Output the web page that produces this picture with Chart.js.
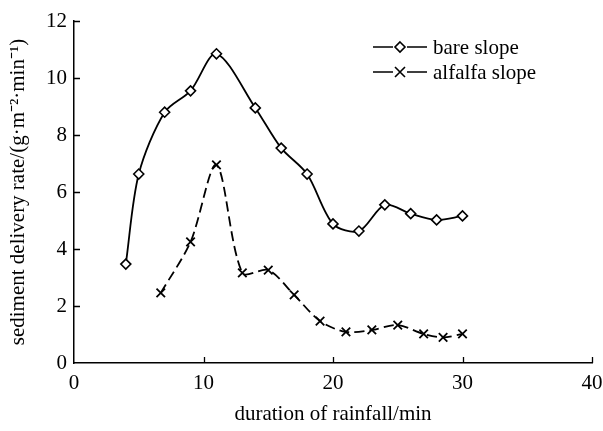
<!DOCTYPE html>
<html>
<head>
<meta charset="utf-8">
<script src="https://cdn.jsdelivr.net/npm/chart.js@4/dist/chart.umd.min.js"></script>
<style>
  html, body { margin: 0; padding: 0; background: #fff; }
  #wrap { width: 603px; height: 431px; }
</style>
</head>
<body>
<div id="wrap"><canvas id="chart" width="603" height="431"></canvas></div>
<script>
// values
const bareX = [4, 5, 7, 9, 11, 14, 16, 18, 20, 22, 24, 26, 28, 30];
const bareY = [3.47, 6.63, 8.8, 9.55, 10.85, 8.95, 7.54, 6.63, 4.88, 4.63, 5.55, 5.24, 5.02, 5.16];
const alfalfaX = [6.7, 9, 11, 13, 15, 17, 19, 21, 23, 25, 27, 28.5, 30];
const alfalfaY = [2.46, 4.25, 6.95, 3.16, 3.26, 2.39, 1.47, 1.09, 1.16, 1.33, 1.02, 0.9, 1.02];
const seriesNames = ['bare slope', 'alfalfa slope'];

const FONT = '"Liberation Serif", "Times New Roman", serif';

function toPoints(xs, ys) {
    return xs.map((x, i) => ({ x: x, y: ys[i] }));
}

// inward tick marks, like the original figure
const innerTicks = {
    id: 'innerTicks',
    afterDraw(chart) {
        const ctx = chart.ctx;
        const xs = chart.scales.x;
        const ys = chart.scales.y;
        ctx.save();
        ctx.strokeStyle = '#000';
        ctx.lineWidth = 1.3;
        ctx.beginPath();
        xs.ticks.forEach(t => {
            if (t.value === 0) return;
            const px = Math.round(xs.getPixelForValue(t.value)) + 0.5;
            ctx.moveTo(px, ys.bottom);
            ctx.lineTo(px, ys.bottom - 6);
        });
        ys.ticks.forEach(t => {
            if (t.value === 0) return;
            const py = Math.round(ys.getPixelForValue(t.value)) + 0.5;
            ctx.moveTo(xs.left, py);
            ctx.lineTo(xs.left + 6, py);
        });
        ctx.stroke();
        ctx.restore();
    }
};

// legend drawn as line + marker samples
const sampleLegend = {
    id: 'sampleLegend',
    afterDraw(chart) {
        const ctx = chart.ctx;
        const x0 = 373, x1 = 427, rows = [47, 72];
        ctx.save();
        ctx.strokeStyle = '#000';
        ctx.lineWidth = 1.6;
        ctx.font = '21px ' + FONT;
        ctx.fillStyle = '#000';
        ctx.textBaseline = 'middle';
        rows.forEach((y, i) => {
            const mid = (x0 + x1) / 2;
            ctx.beginPath();
            ctx.moveTo(x0, y);
            ctx.lineTo(mid - 7, y);
            ctx.moveTo(mid + 7, y);
            ctx.lineTo(x1, y);
            ctx.stroke();
            ctx.beginPath();
            if (i === 0) {
                ctx.moveTo(mid, y - 5);
                ctx.lineTo(mid + 5, y);
                ctx.lineTo(mid, y + 5);
                ctx.lineTo(mid - 5, y);
                ctx.closePath();
            } else {
                ctx.moveTo(mid - 5, y - 5);
                ctx.lineTo(mid + 5, y + 5);
                ctx.moveTo(mid + 5, y - 5);
                ctx.lineTo(mid - 5, y + 5);
            }
            ctx.stroke();
            ctx.fillText(seriesNames[i], x1 + 6, y + 1);
        });
        ctx.restore();
    }
};

new Chart(document.getElementById('chart').getContext('2d'), {
    type: 'line',
    data: {
        datasets: [{
            label: seriesNames[0],
            data: toPoints(bareX, bareY),
            borderColor: '#000',
            borderWidth: 1.8,
            tension: 0.3,
            pointStyle: 'rectRot',
            pointRadius: 5,
            pointBackgroundColor: '#fff',
            pointBorderColor: '#000',
            pointBorderWidth: 1.6,
            fill: false
        }, {
            label: seriesNames[1],
            data: toPoints(alfalfaX, alfalfaY),
            borderColor: '#000',
            borderWidth: 1.8,
            borderDash: [10, 5],
            tension: 0.3,
            pointStyle: 'crossRot',
            pointRadius: 6,
            pointBorderColor: '#000',
            pointBorderWidth: 1.8,
            fill: false
        }]
    },
    options: {
        responsive: false,
        animation: false,
        devicePixelRatio: 1,
        layout: { padding: { left: 0, top: 21, right: 0, bottom: 0 } },
        plugins: {
            legend: { display: false },
            tooltip: { enabled: false }
        },
        scales: {
            x: {
                type: 'linear',
                min: 0,
                max: 40,
                ticks: {
                    stepSize: 10,
                    color: '#000',
                    padding: 8,
                    maxRotation: 0,
                    font: { family: FONT, size: 21 }
                },
                grid: { display: false, drawTicks: false },
                border: { color: '#000', width: 1.5 },
                title: {
                    display: true,
                    text: 'duration of rainfall/min',
                    color: '#000',
                    padding: { top: 16 },
                    font: { family: FONT, size: 21 }
                },
                afterFit: s => {
                    s.height = 68;
                    s.paddingRight = 11;
                    s.paddingLeft = 0;
                }
            },
            y: {
                min: 0,
                max: 12,
                ticks: {
                    stepSize: 2,
                    color: '#000',
                    padding: 7,
                    font: { family: FONT, size: 21 }
                },
                grid: { display: false, drawTicks: false },
                border: { color: '#000', width: 1.5 },
                title: {
                    display: true,
                    text: 'sediment delivery rate/(g·m⁻²·min⁻¹)',
                    color: '#000',
                    padding: { top: 6, bottom: 0 },
                    font: { family: FONT, size: 21 }
                },
                afterFit: s => { s.width = 74; }
            }
        }
    },
    plugins: [innerTicks, sampleLegend]
});
</script>
</body>
</html>
